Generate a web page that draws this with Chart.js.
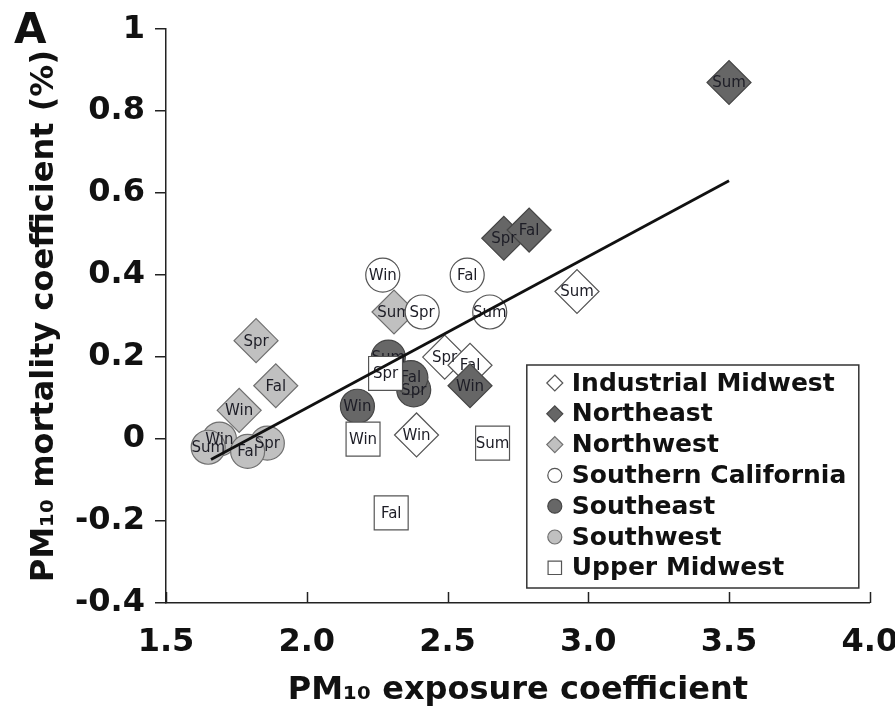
<!DOCTYPE html>
<html>
<head>
<meta charset="utf-8">
<title>PM10 mortality vs exposure coefficients</title>
<script src="https://cdn.jsdelivr.net/npm/chart.js@4.4.1/dist/chart.umd.min.js"></script>
<style>
  html, body { margin: 0; padding: 0; background: #fff; }
  #wrap { position: relative; width: 895px; height: 717px; }
</style>
</head>
<body>
<div id="wrap"><canvas id="pmChart" width="895" height="717"></canvas></div>
<script>
// Seasonal coefficients per region; every region lists its points as Win, Spr, Sum, Fal
const seasons = ['Win', 'Spr', 'Sum', 'Fal'];

const regionNames = ['Industrial Midwest', 'Northeast', 'Northwest', 'Southern California',
                     'Southeast', 'Southwest', 'Upper Midwest'];

const industrialMidwestX = [2.39, 2.49, 2.96, 2.58];
const industrialMidwestY = [0.01, 0.20, 0.36, 0.18];

const northeastX = [2.58, 2.70, 3.50, 2.79];
const northeastY = [0.13, 0.49, 0.87, 0.51];

const northwestX = [1.76, 1.82, 2.31, 1.89];
const northwestY = [0.07, 0.24, 0.31, 0.13];

const southernCaliforniaX = [2.27, 2.41, 2.65, 2.57];
const southernCaliforniaY = [0.40, 0.31, 0.31, 0.40];

const southeastX = [2.18, 2.38, 2.29, 2.37];
const southeastY = [0.08, 0.12, 0.20, 0.15];

const southwestX = [1.69, 1.86, 1.65, 1.79];
const southwestY = [0.00, -0.01, -0.02, -0.03];

const upperMidwestX = [2.20, 2.28, 2.66, 2.30];
const upperMidwestY = [0.00, 0.16, -0.01, -0.18];

// fitted regression line, end points
const fitX = [1.66, 3.50];
const fitY = [-0.05, 0.63];

const xTicks = [1.5, 2.0, 2.5, 3.0, 3.5, 4.0];
const yTicks = [-0.4, -0.2, 0, 0.2, 0.4, 0.6, 0.8, 1];

const regionX = [industrialMidwestX, northeastX, northwestX, southernCaliforniaX,
                 southeastX, southwestX, upperMidwestX];
const regionY = [industrialMidwestY, northeastY, northwestY, southernCaliforniaY,
                 southeastY, southwestY, upperMidwestY];

// marker look per region (same order as regionNames)
const markerStyles = [
  { shape: 'rectRot', fill: '#ffffff', edge: '#555555', r: 22 },
  { shape: 'rectRot', fill: '#666666', edge: '#464646', r: 22 },
  { shape: 'rectRot', fill: '#c0c0c0', edge: '#707070', r: 22 },
  { shape: 'circle',  fill: '#ffffff', edge: '#555555', r: 17 },
  { shape: 'circle',  fill: '#676767', edge: '#464646', r: 17 },
  { shape: 'circle',  fill: '#c0c0c0', edge: '#707070', r: 17 },
  { shape: 'rect',    fill: '#ffffff', edge: '#555555', r: 24 }
];

const FONT = '"DejaVu Sans", "Liberation Sans", Arial, sans-serif';

function toPoints(xs, ys) {
  return xs.map((x, i) => ({ x: x, y: ys[i] }));
}

const datasets = regionNames.map((name, i) => ({
  label: name,
  data: toPoints(regionX[i], regionY[i]),
  pointStyle: markerStyles[i].shape,
  pointRadius: markerStyles[i].r,
  pointHoverRadius: markerStyles[i].r,
  pointBackgroundColor: markerStyles[i].fill,
  pointBorderColor: markerStyles[i].edge,
  pointBorderWidth: 1.2,
  seasonTags: true,
  // later regions sit on top of earlier ones
  order: regionNames.length - i
}));

datasets.push({
  type: 'line',
  label: 'fit',
  data: toPoints(fitX, fitY),
  borderColor: '#111111',
  borderWidth: 2.8,
  pointRadius: 0,
  fill: false,
  order: 0
});

// season names written inside each marker
const seasonLabels = {
  id: 'seasonLabels',
  afterDatasetDraw(chart, args) {
    const ds = chart.data.datasets[args.index];
    if (!ds.seasonTags) return;
    const ctx = chart.ctx;
    ctx.save();
    ctx.font = '15px ' + FONT;
    ctx.fillStyle = '#1d1d26';
    ctx.textAlign = 'center';
    ctx.textBaseline = 'middle';
    args.meta.data.forEach((pt, i) => {
      ctx.fillText(seasons[i], pt.x, pt.y + 1);
    });
    ctx.restore();
  }
};

// x ticks point up into the plot
const innerXTicks = {
  id: 'innerXTicks',
  afterDraw(chart) {
    const ctx = chart.ctx;
    const xs = chart.scales.x;
    const bottom = chart.chartArea.bottom;
    ctx.save();
    ctx.strokeStyle = '#222';
    ctx.lineWidth = 1.5;
    ctx.beginPath();
    xTicks.forEach(v => {
      const px = Math.round(xs.getPixelForValue(v)) + 0.5;
      ctx.moveTo(px, bottom);
      ctx.lineTo(px, bottom - 11);
    });
    ctx.stroke();
    ctx.restore();
  }
};

function drawMarker(ctx, shape, x, y, r) {
  ctx.beginPath();
  if (shape === 'circle') {
    ctx.arc(x, y, r, 0, Math.PI * 2);
  } else if (shape === 'rectRot') {
    ctx.moveTo(x, y - r);
    ctx.lineTo(x + r, y);
    ctx.lineTo(x, y + r);
    ctx.lineTo(x - r, y);
    ctx.closePath();
  } else {
    const h = r * Math.SQRT1_2;
    ctx.rect(x - h, y - h, h * 2, h * 2);
  }
  ctx.fill();
  ctx.stroke();
}

// boxed legend in the lower right of the plot
const boxLegend = {
  id: 'boxLegend',
  afterDraw(chart) {
    const ctx = chart.ctx;
    const area = chart.chartArea;
    const w = 332, h = 223;
    const left = area.right - 11 - w;
    const top = area.bottom - 15 - h;
    ctx.save();
    ctx.fillStyle = '#ffffff';
    ctx.fillRect(left, top, w, h);
    ctx.strokeStyle = '#333';
    ctx.lineWidth = 1.5;
    ctx.strokeRect(left, top, w, h);
    ctx.font = 'bold 25px ' + FONT;
    ctx.textBaseline = 'middle';
    ctx.textAlign = 'left';
    regionNames.forEach((name, i) => {
      const cy = top + 18 + i * 30.8;
      const st = markerStyles[i];
      ctx.fillStyle = st.fill;
      ctx.strokeStyle = st.edge;
      ctx.lineWidth = 1.2;
      const size = st.shape === 'rectRot' ? 8 : (st.shape === 'circle' ? 7 : 9.5);
      drawMarker(ctx, st.shape, left + 28, cy, size);
      ctx.fillStyle = '#111';
      ctx.fillText(name, left + 45, cy + 1);
    });
    ctx.restore();
  }
};

// panel letter
const panelLetter = {
  id: 'panelLetter',
  afterDraw(chart) {
    const ctx = chart.ctx;
    ctx.save();
    ctx.font = 'bold 42px ' + FONT;
    ctx.fillStyle = '#111';
    ctx.textBaseline = 'alphabetic';
    ctx.fillText('A', 14, 43);
    ctx.restore();
  }
};

const tickFont = { family: FONT, size: 32, weight: 'bold' };
const xTickFont = { family: FONT, size: 32, weight: 'bold', lineHeight: 1.0 };
const titleFont = { family: FONT, size: 32, weight: 'bold', lineHeight: 1.0 };

new Chart(document.getElementById('pmChart').getContext('2d'), {
  type: 'scatter',
  data: { datasets: datasets },
  options: {
    responsive: false,
    animation: false,
    devicePixelRatio: 1,
    layout: { padding: { left: 24, right: 0, top: 27, bottom: 10 } },
    plugins: {
      legend: { display: false },
      tooltip: { enabled: false }
    },
    scales: {
      x: {
        type: 'linear',
        min: 1.5,
        max: 4.0,
        afterBuildTicks: s => { s.ticks = xTicks.map(v => ({ value: v })); },
        afterFit: s => { s.paddingRight = 22; },
        grid: { display: true, drawOnChartArea: false, drawTicks: false },
        border: { display: true, color: '#222', width: 1.5 },
        ticks: {
          padding: 24,
          color: '#111',
          font: xTickFont,
          maxRotation: 0,
          autoSkip: false,
          callback: v => Number(v).toFixed(1)
        },
        title: {
          display: true,
          text: 'PM\u2081\u2080 exposure coefficient',
          color: '#111',
          font: titleFont,
          padding: { top: -8, bottom: 0 }
        }
      },
      y: {
        type: 'linear',
        min: -0.4,
        max: 1,
        afterBuildTicks: s => { s.ticks = yTicks.map(v => ({ value: v })); },
        grid: {
          display: true,
          drawOnChartArea: false,
          drawTicks: true,
          tickLength: 11,
          color: '#222',
          lineWidth: 1.5
        },
        border: { display: true, color: '#222', width: 1.5 },
        ticks: {
          padding: 10,
          color: '#111',
          font: tickFont,
          callback: v => String(Math.round(v * 10) / 10)
        },
        title: {
          display: true,
          text: 'PM\u2081\u2080 mortality coefficient (%)',
          color: '#111',
          font: titleFont,
          padding: { top: 5, bottom: 4 }
        }
      }
    }
  },
  plugins: [seasonLabels, innerXTicks, boxLegend, panelLetter]
});
</script>
</body>
</html>
